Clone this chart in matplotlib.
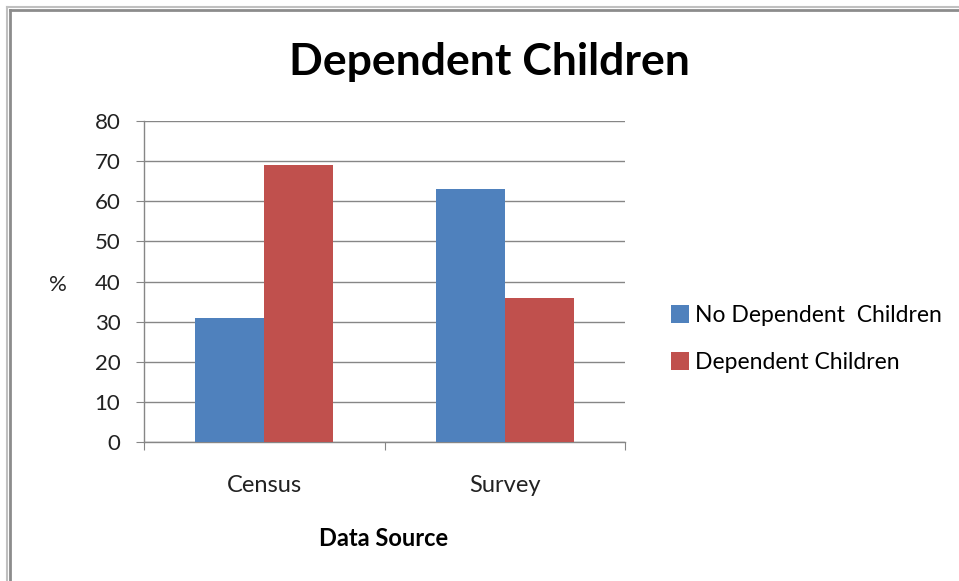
import numpy as np
import matplotlib.pyplot as plt
from matplotlib.lines import Line2D

plt.rcParams['font.family'] = ['Lato', 'DejaVu Sans']

sources = ["Census", "Survey"]
no_dependent = [31, 63]
dependent = [69, 36]
series_names = ["No Dependent  Children", "Dependent Children"]
yticks = [0, 10, 20, 30, 40, 50, 60, 70, 80]

blue = "#4f81bd"
red = "#c0504d"
grid = "#868686"

fig = plt.figure(figsize=(9.59, 5.81), dpi=100)
fig.patch.set_facecolor("white")
ax = fig.add_axes([144 / 959, 1 - 442 / 581, 481 / 959, 321 / 581])

x = np.arange(len(sources))
w = 0.287
ax.bar(x - w / 2, no_dependent, w, color=blue, label=series_names[0], zorder=3)
ax.bar(x + w / 2, dependent, w, color=red, label=series_names[1], zorder=3)

ax.set_xlim(-0.5, len(sources) - 0.5)
ax.set_ylim(0, 80)
ax.set_yticks(yticks)
ax.yaxis.grid(True, color=grid, linewidth=1, zorder=0)
ax.set_axisbelow(True)

# category labels sit between the boundary ticks
ax.set_xticks(np.arange(len(sources) + 1) - 0.5)
ax.set_xticklabels([])
ax.set_xticks(x, minor=True)
ax.set_xticklabels(sources, minor=True, fontsize=17, color="#222222")
ax.tick_params(axis="x", which="major", length=6, color=grid, direction="out")
ax.tick_params(axis="x", which="minor", length=0, pad=24)
ax.tick_params(axis="y", length=6, color=grid, labelsize=16, labelcolor="#222222", pad=11)

for side in ["top", "right"]:
    ax.spines[side].set_visible(False)
for side in ["left", "bottom"]:
    ax.spines[side].set_color(grid)
    ax.spines[side].set_linewidth(1)

fig.text(489 / 959, 1 - 62 / 581, "Dependent Children", ha="center", va="center",
         fontsize=32, fontweight="bold", color="black")
fig.text(58 / 959, 1 - 285 / 581, "%", ha="center", va="center", fontsize=16, color="#222222")
fig.text(384 / 959, 1 - 538 / 581, "Data Source", ha="center", va="center",
         fontsize=17, fontweight="bold", color="black")

ax.legend(loc="center left", bbox_to_anchor=(650 / 959, 1 - 339 / 581),
          bbox_transform=fig.transFigure, frameon=False, fontsize=16.5,
          handlelength=0.8, handleheight=0.8, handletextpad=0.25, labelspacing=1.15)

# outer frame on the left and top edges
for xs, ys, c, lw in [([6.5 / 959] * 2, [0, 1 - 6.5 / 581], "#c0c0c0", 1.5),
                      ([9.5 / 959] * 2, [0, 1 - 9.5 / 581], "#8c8c8c", 2.0)]:
    fig.add_artist(Line2D(xs, ys, color=c, linewidth=lw, transform=fig.transFigure))
for ys, xs, c, lw in [([1 - 6.5 / 581] * 2, [6.5 / 959, 1], "#c0c0c0", 1.5),
                      ([1 - 9.5 / 581] * 2, [9.5 / 959, 1], "#8c8c8c", 2.0)]:
    fig.add_artist(Line2D(xs, ys, color=c, linewidth=lw, transform=fig.transFigure))

fig.savefig("out.png", dpi=100, facecolor="white")
